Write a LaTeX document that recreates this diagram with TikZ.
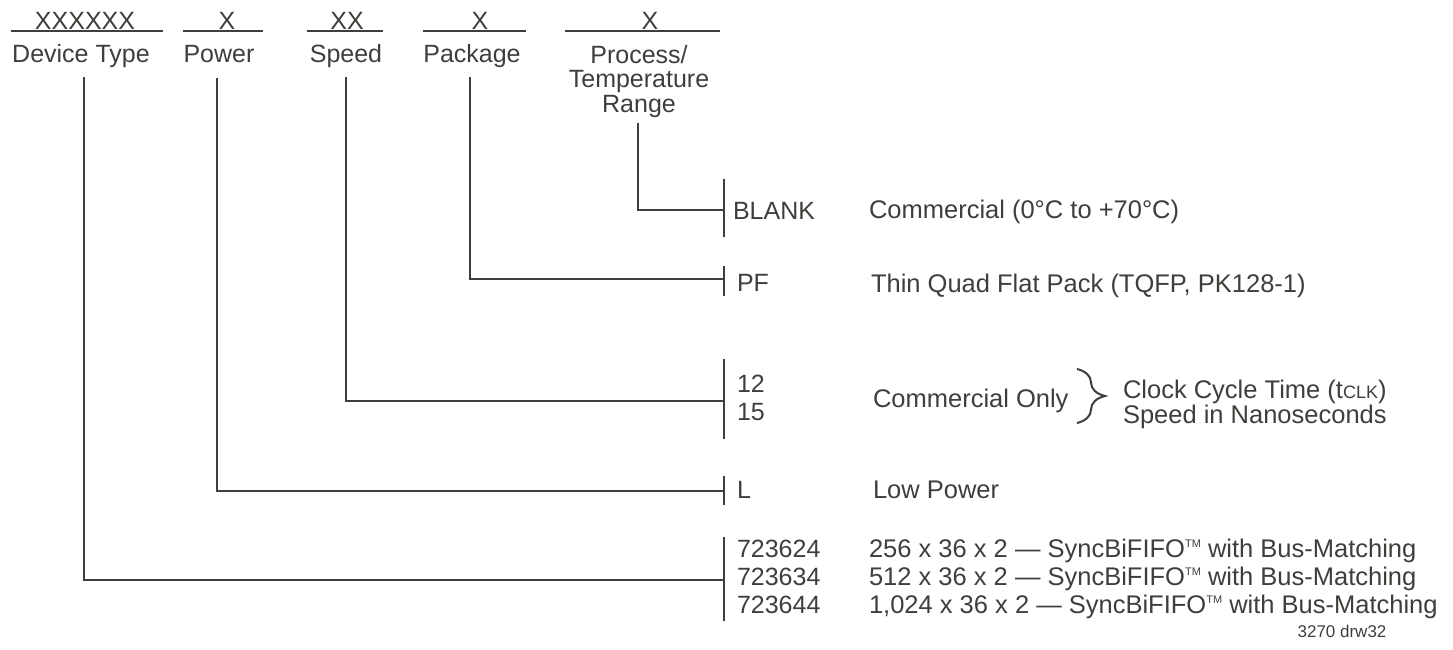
\documentclass[tikz,border=0pt]{standalone}
\usepackage{fontspec}
\setmainfont{Liberation Sans}
\usetikzlibrary{decorations.pathreplacing}
\definecolor{ink}{RGB}{62,62,58}
\newcommand{\tmark}{\raisebox{9.5pt}{\fontsize{11}{11}\selectfont TM}}
\begin{document}
\begin{tikzpicture}[x=1pt,y=-1pt,
  every node/.style={inner sep=0pt,outer sep=0pt,text=ink},
  txt/.style={font=\fontsize{25}{24.5}\selectfont,anchor=base},
  lft/.style={txt,anchor=base west},
  desc/.style={font=\fontsize{25.5}{25}\selectfont,anchor=base west},
  small/.style={font=\fontsize{17}{17}\selectfont,anchor=base},
  ln/.style={draw=ink,line width=2pt},
  barline/.style={draw=ink,line width=2.5pt}]
\useasboundingbox (0,0) rectangle (1453,649);

% ---- code fields
\node[txt] (cdev) at (85,29) {XXXXXX};
\node[txt] (cpow) at (227,29) {X};
\node[txt] (cspd) at (347,29) {XX};
\node[txt] (cpkg) at (480,29) {X};
\node[txt] (cprc) at (650,29) {X};
\coordinate (u1a) at (11,31);  \coordinate (u1b) at (163,31);
\coordinate (u2a) at (183,31); \coordinate (u2b) at (263,31);
\coordinate (u3a) at (307,31); \coordinate (u3b) at (383,31);
\coordinate (u4a) at (423,31); \coordinate (u4b) at (526,31);
\coordinate (u5a) at (565,31); \coordinate (u5b) at (720,31);
\foreach \u in {1,...,5} {\draw[ln] (u\u a) -- (u\u b);}

% ---- field labels
\node[txt] (ldev) at (81,62) {Device Type};
\node[txt] (lpow) at (219,62) {Power};
\node[txt] (lspd) at (346,62) {Speed};
\node[txt] (lpkg) at (472,62) {Package};
\node[txt,align=center] (lprc) at (639,112) {Process/\\Temperature\\Range};

% ---- bars
\coordinate (b1t) at (724,179); \coordinate (b1b) at (724,237);
\coordinate (b2t) at (724,266); \coordinate (b2b) at (724,296);
\coordinate (b3t) at (724,359); \coordinate (b3b) at (724,439);
\coordinate (b4t) at (724,476); \coordinate (b4b) at (724,505);
\coordinate (b5t) at (724,537); \coordinate (b5b) at (724,621);
\foreach \b in {1,...,5} {\draw[barline] (b\b t) -- (b\b b);}

% ---- connectors
\coordinate (tprc) at (638,123); \coordinate (hprc) at (724,210);
\coordinate (tpkg) at (470,77);  \coordinate (hpkg) at (724,279);
\coordinate (tspd) at (346,77);  \coordinate (hspd) at (724,401);
\coordinate (tpow) at (217,78);  \coordinate (hpow) at (724,491);
\coordinate (tdev) at (84,77);   \coordinate (hdev) at (724,580);
\draw[ln] (tprc) |- (hprc);
\draw[ln] (tpkg) |- (hpkg);
\draw[ln] (tspd) |- (hspd);
\draw[ln] (tpow) |- (hpow);
\draw[ln] (tdev) |- (hdev);

% ---- option codes
\node[lft] (oblank) at (733,219) {BLANK};
\node[lft] (opf) at (737,291) {PF};
\node[lft] (o12) at (737,392) {12};
\node[lft] (o15) at (737,420) {15};
\node[lft] (ol) at (737,498) {L};
\node[lft] (o624) at (737,557) {723624};
\node[lft] (o634) at (737,585) {723634};
\node[lft] (o644) at (737,613) {723644};

% ---- descriptions
\node[desc] (dblank) at (869,218) {Commercial (0°C to +70°C)};
\node[desc] (dpf) at (871,292) {Thin Quad Flat Pack (TQFP, PK128-1)};
\node[desc] (dcom) at (873,407) {Commercial Only};
\node[desc] (dclk) at (1123,398) {Clock Cycle Time (t{\fontsize{18}{18}\selectfont CLK})};
\node[desc] (dns) at (1123,423) {Speed in Nanoseconds};
\node[desc] (dlow) at (873,498) {Low Power};
\node[desc] (d624) at (869,557) {256 x 36 x 2 — SyncBiFIFO\tmark\ with Bus-Matching};
\node[desc] (d634) at (869,585) {512 x 36 x 2 — SyncBiFIFO\tmark\ with Bus-Matching};
\node[desc] (d644) at (869,613) {1,024 x 36 x 2 — SyncBiFIFO\tmark\ with Bus-Matching};
\node[small] (drw) at (1342,637) {3270 drw32};

% ---- brace
\coordinate (brt) at (1077,369); \coordinate (brb) at (1077,423);
\draw[ln,decorate,decoration={brace,amplitude=28pt}] (brt) -- (brb);
\end{tikzpicture}
\end{document}
